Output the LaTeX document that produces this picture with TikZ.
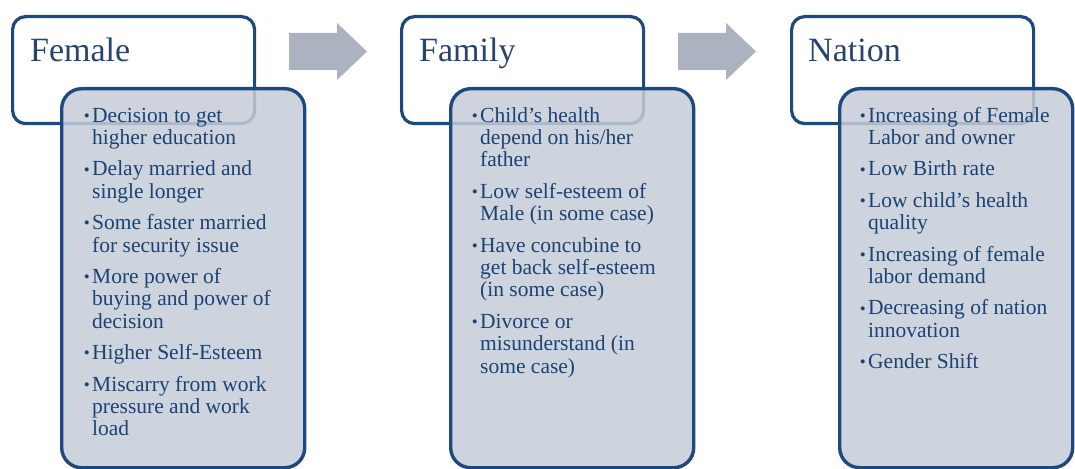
\documentclass[tikz,border=0pt]{standalone}
\usepackage{fontspec}
\setmainfont{Liberation Serif}
\definecolor{bord}{RGB}{31,73,125}
\definecolor{txtc}{RGB}{28,66,115}
\definecolor{ttlc}{RGB}{38,68,110}
\definecolor{cfill}{RGB}{198,204,216}
\definecolor{arrc}{RGB}{172,178,192}
\newcommand\bitem[1]{\par\noindent\llap{\raisebox{0.8pt}{\fontsize{17}{17}\selectfont\textbullet}\hspace{2.5pt}}#1}
\newcommand\blist[1]{\vtop{\hsize=240pt\parindent=0pt\parskip=9pt\fontsize{21.5}{22.4}\selectfont #1}}
\tikzset{
  hdr/.style={draw=bord, line width=3.2pt, fill=white, rounded corners=13pt,
    minimum width=242pt, minimum height=107pt, anchor=north west, inner sep=0pt},
  cbox/.style={draw=bord, line width=3.4pt, fill=cfill, fill opacity=0.85, draw opacity=1,
    rounded corners=20pt, minimum width=243pt, minimum height=379pt, anchor=north west, inner sep=0pt},
  ttl/.style={anchor=base west, inner sep=0pt, text=ttlc, font=\fontsize{34}{40}\selectfont},
  blt/.style={anchor=base west, inner sep=0pt, text=txtc},
  blockarrow/.style={fill=arrc, draw=none}
}
\begin{document}
\begin{tikzpicture}[x=1pt,y=-1pt]
\useasboundingbox (0,0) rectangle (1075,468);
% arrows
\fill[blockarrow] (289,33) -- (337,33) -- (337,23) -- (367,51.5) -- (337,80) -- (337,70) -- (289,70) -- cycle;
\fill[blockarrow] (678,33) -- (726,33) -- (726,23) -- (756,51.5) -- (726,80) -- (726,70) -- (678,70) -- cycle;
% headers
\node[hdr] (h1) at (11,15) {};
\node[hdr] (h2) at (400,15) {};
\node[hdr] (h3) at (790,15) {};
\node[ttl] (t1) at (30,62) {Female};
\node[ttl] (t2) at (419,62) {Family};
\node[ttl] (t3) at (808,62) {Nation};
% content boxes
\node[cbox] (c1) at (60,87) {};
\node[cbox] (c2) at (449,87) {};
\node[cbox] (c3) at (838,87) [minimum width=233pt] {};
% texts
\node[blt] (b1) at (92,122) {\blist{%
\bitem{Decision to get\\higher education}
\bitem{Delay married and\\single longer}
\bitem{Some faster married\\for security issue}
\bitem{More power of\\buying and power of\\decision}
\bitem{Higher Self-Esteem}
\bitem{Miscarry from work\\pressure and work\\load}}};
\node[blt] (b2) at (480,122) {\blist{%
\bitem{Child's health\\depend on his/her\\father}
\bitem{Low self-esteem of\\Male (in some case)}
\bitem{Have concubine to\\get back self-esteem\\(in some case)}
\bitem{Divorce or\\misunderstand (in\\some case)}}};
\node[blt] (b3) at (868,122) {\blist{%
\bitem{Increasing of Female\\Labor and owner}
\bitem{Low Birth rate}
\bitem{Low child's health\\quality}
\bitem{Increasing of female\\labor demand}
\bitem{Decreasing of nation\\innovation}
\bitem{Gender Shift}}};
\end{tikzpicture}
\end{document}
